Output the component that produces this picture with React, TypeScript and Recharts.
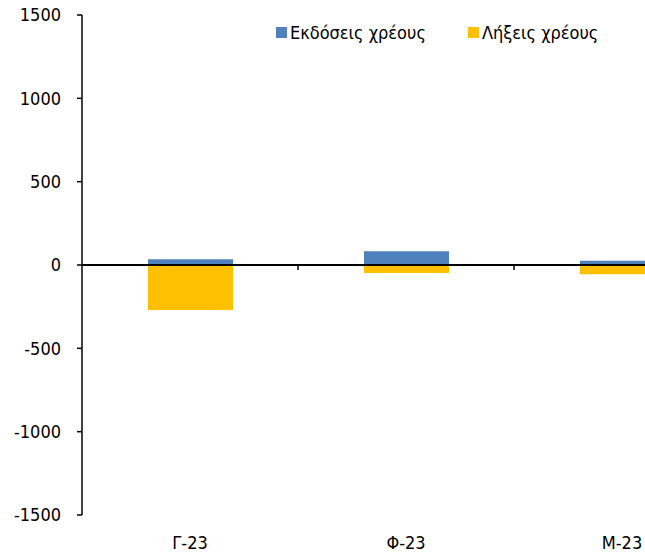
import React from 'react';
import { BarChart, Bar, XAxis, YAxis, Legend, ReferenceLine } from 'recharts';

const months = ['Γ-23', 'Φ-23', 'Μ-23'];
const issuance = [35, 82, 26];
const maturities = [-270, -48, -56];
const yTicks = [-1500, -1000, -500, 0, 500, 1000, 1500];

const BLUE = '#4F81BD';
const YELLOW = '#FFC000';
const FONT = '"DejaVu Sans Condensed", "DejaVu Sans", sans-serif';

const data = months.map((name, i) => ({
  name,
  issuance: issuance[i],
  maturities: maturities[i],
}));

// zero line with small tick marks between categories (Excel-style axis crossing at 0)
function ZeroAxis(props: any) {
  const { x1, x2, y1 } = props;
  const band = (x2 - x1) / months.length;
  const ticks = months.slice(1).map((_, i) => x1 + band * (i + 1));
  return (
    <g>
      <line x1={x1} x2={x2} y1={y1} y2={y1} stroke="#000" strokeWidth={2} />
      {ticks.map((tx) => (
        <line key={tx} x1={tx} x2={tx} y1={y1} y2={y1 + 5} stroke="#000" strokeWidth={1.5} />
      ))}
    </g>
  );
}

function LegendBox() {
  const items = [
    { label: 'Εκδόσεις χρέους', color: BLUE },
    { label: 'Λήξεις χρέους', color: YELLOW },
  ];
  return (
    <div style={{ display: 'flex', gap: 42, fontFamily: FONT, fontSize: 18, color: '#000' }}>
      {items.map((it) => (
        <div key={it.label} style={{ display: 'flex', alignItems: 'center', whiteSpace: 'nowrap' }}>
          <span style={{ width: 11, height: 11, background: it.color, marginRight: 3, display: 'inline-block' }} />
          <span>{it.label}</span>
        </div>
      ))}
    </div>
  );
}

export default function App() {
  return (
    <div style={{ position: 'absolute', left: 0, top: 0, width: 645, height: 554, overflow: 'hidden', background: '#fff' }}>
      <BarChart
        width={740}
        height={554}
        data={data}
        stackOffset="sign"
        margin={{ top: 15, right: 10, bottom: 0, left: 0 }}
      >
        <XAxis
          dataKey="name"
          height={39}
          axisLine={false}
          tickLine={false}
          tickSize={0}
          tickMargin={21}
          interval={0}
          tick={{ fontSize: 18, fontFamily: FONT, fill: '#000' }}
        />
        <YAxis
          width={82}
          domain={[-1500, 1500]}
          ticks={yTicks}
          interval={0}
          axisLine={{ stroke: '#000', strokeWidth: 1.5 }}
          tickLine={{ stroke: '#000', strokeWidth: 1.5 }}
          tickSize={5}
          tickMargin={16}
          tick={{ fontSize: 18, fontFamily: FONT, fill: '#000' }}
        />
        <Legend
          layout="horizontal"
          verticalAlign="middle"
          align="center"
          wrapperStyle={{ top: 22, left: 276, width: 'auto' }}
          content={() => <LegendBox />}
        />
        <Bar dataKey="issuance" stackId="a" fill={BLUE} barSize={85} isAnimationActive={false} />
        <Bar dataKey="maturities" stackId="a" fill={YELLOW} barSize={85} isAnimationActive={false} />
        <ReferenceLine y={0} shape={ZeroAxis} />
      </BarChart>
    </div>
  );
}
